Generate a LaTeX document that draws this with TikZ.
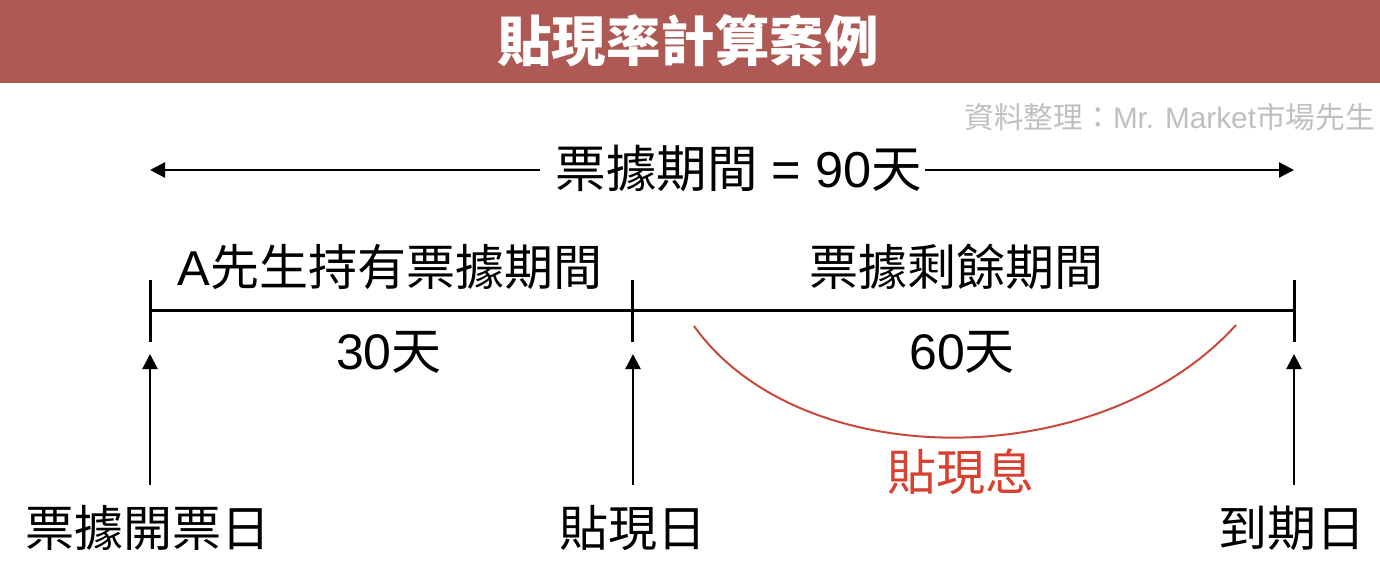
\documentclass[tikz,border=0pt]{standalone}
\usepackage{fontspec}
\setmainfont{Liberation Sans}
\newfontfamily\cjk{Noto Sans CJK TC}
\usetikzlibrary{arrows.meta}
\definecolor{banner}{HTML}{AF5954}
\definecolor{curvered}{HTML}{C8493A}
\definecolor{redtext}{HTML}{D8402F}
\tikzset{
  lab/.style={inner sep=0pt,text=black,font=\fontsize{49}{52}\selectfont},
  ln/.style={line width=3pt,black},
  arr/.style={line width=2.2pt,black,-{Triangle[length=15pt,width=15pt]}},
}
\begin{document}
\begin{tikzpicture}[x=1pt,y=-1pt]
\useasboundingbox (0,0) rectangle (1380,584);
\fill[banner] (0,0) rectangle (1380,83);
\node[inner sep=0pt,text=white,font=\fontsize{54.5}{58}\selectfont\cjk\bfseries] (title) at (688,41) {貼現率計算案例};
\node[inner sep=0pt,anchor=east,text=black!25,font=\fontsize{29.7}{32}\selectfont] (src) at (1375,117) {{\cjk 資料整理：}Mr. Market{\cjk 市場先生}};
\node[lab,font=\fontsize{50.5}{54}\selectfont] (period) at (739,168) {{\cjk 票據期間} = 90{\cjk 天}};
\coordinate (pl) at (150,170); \coordinate (pr) at (1294,170);
\draw[arr] (540,170) -- (pl);
\draw[arr] (925,170) -- (pr);
\node[lab] (hold) at (390,267) {A{\cjk 先生持有票據期間}};
\node[lab] (rem) at (956,267) {\cjk 票據剩餘期間};
\coordinate (a) at (150,310); \coordinate (b) at (632,310); \coordinate (c) at (1294,310);
\draw[ln] (a) -- (c);
\draw[ln] (150,280) -- (150,342);
\draw[ln] (632,280) -- (632,342);
\draw[ln] (1294,280) -- (1294,342);
\node[lab,font=\fontsize{50}{54}\selectfont] (d30) at (389,352) {30{\cjk 天}};
\node[lab,font=\fontsize{50}{54}\selectfont] (d60) at (962,352) {60{\cjk 天}};
\coordinate (c1) at (694,326); \coordinate (c2) at (1236,325);
\draw[curvered,line width=2pt] (c1) .. controls (800,475) and (1100,475) .. (c2);
\node[lab,text=redtext] (xi) at (961,472) {\cjk 貼現息};
\node[lab] (l1) at (148,528) {\cjk 票據開票日};
\node[lab] (l2) at (633,528) {\cjk 貼現日};
\node[lab] (l3) at (1292,528) {\cjk 到期日};
\draw[arr] (150,485) -- (150,354);
\draw[arr] (633,485) -- (633,354);
\draw[arr] (1294,485) -- (1294,354);
\end{tikzpicture}
\end{document}
